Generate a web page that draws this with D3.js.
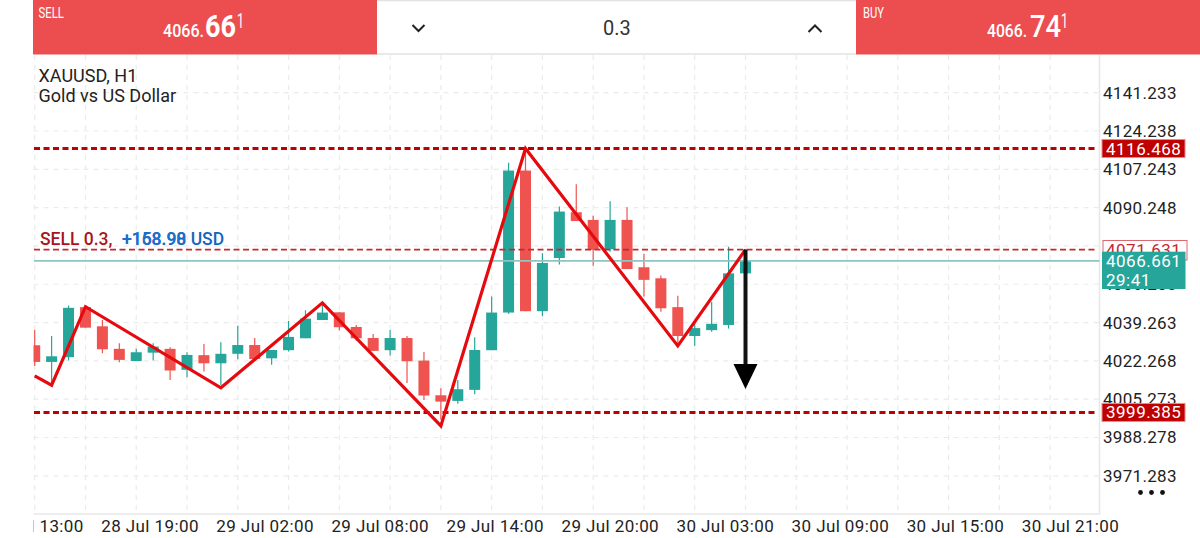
<!DOCTYPE html>
<html><head><meta charset="utf-8">
<script src="https://cdn.jsdelivr.net/npm/d3@7"></script>
<style>html,body{margin:0;padding:0;background:#fff;overflow:hidden}svg{display:block}text{font-family:Roboto,sans-serif}</style>
</head><body><svg id="c" width="1200" height="538"></svg>
<script>
const opens =[4029.2,4021.8,4023.9,4046.1,4037.6,4027.6,4022.2,4025.9,4027.6,4018.3,4024.8,4021.2,4025.4,4029.3,4023.4,4027.0,4032.3,4040.4,4043.8,4037.3,4032.4,4027.0,4032.4,4022.4,4007.0,4004.5,4009.4,4027.0,4043.7,4106.7,4044.3,4067.9,4088.2,4084.8,4071.8,4084.8,4063.8,4058.9,4046.1,4033.3,4035.9,4038.2,4061.1];
const closes=[4021.8,4024.3,4045.8,4037.0,4027.4,4022.7,4026.1,4028.6,4018.0,4024.9,4021.2,4025.4,4029.3,4023.1,4027.1,4032.9,4041.0,4043.7,4037.2,4032.3,4026.7,4032.4,4022.1,4006.9,4004.2,4009.7,4027.1,4043.7,4106.7,4044.3,4065.7,4088.5,4084.3,4071.5,4084.8,4063.0,4058.2,4045.6,4033.3,4036.8,4038.7,4061.1,4066.6];
const highs =[4036.0,4033.3,4046.8,4047.1,4040.4,4030.1,4027.7,4030.1,4028.3,4026.1,4029.8,4030.5,4037.9,4032.4,4027.1,4040.0,4044.7,4047.8,4043.8,4038.2,4034.2,4036.0,4033.3,4026.2,4010.1,4013.8,4032.8,4050.8,4110.2,4115.8,4070.0,4090.7,4100.6,4086.6,4093.1,4090.4,4069.8,4060.1,4051.2,4039.1,4048.5,4072.9,4066.6];
const lows  =[4020.0,4011.6,4022.4,4037.0,4025.7,4021.7,4022.2,4022.4,4013.8,4015.0,4017.5,4011.6,4023.0,4023.0,4020.5,4026.4,4032.3,4040.4,4035.7,4031.3,4026.7,4024.6,4012.5,4004.9,3996.1,4003.2,4007.5,4027.0,4043.1,4044.3,4042.2,4065.0,4084.3,4064.5,4070.7,4063.0,4050.8,4044.1,4029.3,4029.0,4035.2,4036.6,4061.1];
const zigIndex=[0,1,3,11,17,24,29,38,42];
const zigPrice=[4015.6,4011.5,4046.3,4010.3,4048.0,3993.4,4116.468,4028.9,4071.631];
const priceTicks=[4141.233,4124.238,4107.243,4090.248,4073.253,4056.258,4039.263,4022.268,4005.273,3988.278,3971.283];
const timeLabels=["28 Jul 13:00","28 Jul 19:00","29 Jul 02:00","29 Jul 08:00","29 Jul 14:00","29 Jul 20:00","30 Jul 03:00","30 Jul 09:00","30 Jul 15:00","30 Jul 21:00"];
const upperLevel=4116.468, lowerLevel=3999.385, sellLevel=4071.631, lastPrice=4066.661;
const gridSlots=d3.range(0,63,3);

const svg=d3.select("#c");
const L=33.5,R=1099.5,T=55,B=514;
const y=d3.scaleLinear().domain([4141.233,3971.283]).range([92.7,475.8]);
const x=d3.scaleLinear().domain([0,42]).range([34.7,745.5]);
const xl=d3.scalePoint().domain(timeLabels).range([34.5,1070]);
const UP="#26a69a",DN="#ef5350",LV="#bf0000";
const defs=svg.append("defs");
defs.append("clipPath").attr("id","plot").append("rect").attr("x",L).attr("y",T).attr("width",R-L).attr("height",B-T);
defs.append("clipPath").attr("id","xclip").append("rect").attr("x",L-0.5).attr("y",0).attr("width",1200).attr("height",30);

// grid
const g=svg.append("g").attr("stroke","#ebebeb").attr("stroke-width",1.2).attr("stroke-dasharray","5,5");
g.selectAll(".h").data(priceTicks).join("line").attr("x1",L).attr("x2",R).attr("y1",d=>y(d)).attr("y2",d=>y(d));
g.selectAll(".v").data(gridSlots).join("line").attr("x1",d=>x(d)).attr("x2",d=>x(d)).attr("y1",T).attr("y2",B);
svg.append("path").attr("d",`M${R},${T}V${B}H${L}`).attr("fill","none").attr("stroke","#e8e8e8").attr("stroke-width",1.6);

// candles
const cg=svg.append("g").attr("clip-path","url(#plot)");
const idx=d3.range(opens.length);
const col=i=>closes[i]>=opens[i]?UP:DN;
cg.selectAll(".w").data(idx).join("line").attr("x1",i=>x(i)).attr("x2",i=>x(i)).attr("y1",i=>y(highs[i])).attr("y2",i=>y(lows[i])).attr("stroke",col).attr("stroke-width",1.2);
cg.selectAll(".b").data(idx).join("rect").attr("x",i=>x(i)-5.5).attr("width",11).attr("y",i=>y(Math.max(opens[i],closes[i]))).attr("height",i=>Math.abs(y(opens[i])-y(closes[i]))).attr("fill",col);

// levels
const hl=(v,c,w,d)=>svg.append("line").attr("x1",L+0.5).attr("x2",R-2).attr("y1",y(v)).attr("y2",y(v)).attr("stroke",c).attr("stroke-width",w).attr("stroke-dasharray",d);
hl(upperLevel,LV,3,"6,3.5");hl(lowerLevel,LV,3,"6,3.5");hl(sellLevel,"#c62833",1.8,"6,3.5");
svg.append("line").attr("x1",L+0.5).attr("x2",R).attr("y1",y(lastPrice)).attr("y2",y(lastPrice)).attr("stroke","#8fc5c1").attr("stroke-width",1.8);

// zigzag
svg.append("path").attr("clip-path","url(#plot)").attr("d",d3.line().x(i=>x(zigIndex[i])).y(i=>y(zigPrice[i]))(d3.range(zigIndex.length))).attr("fill","none").attr("stroke","#e60a0e").attr("stroke-width",3.2).attr("stroke-linejoin","miter");

// arrow
const ax=x(42);
svg.append("line").attr("x1",ax).attr("x2",ax).attr("y1",y(sellLevel)).attr("y2",366).attr("stroke","#111").attr("stroke-width",4);
svg.append("path").attr("d",`M${ax-12},364L${ax+12},364L${ax},389Z`).attr("fill","#000");

// axes
const ya=svg.append("g").attr("transform","translate(1103,0)").call(d3.axisRight(y).tickValues(priceTicks).tickSize(0).tickPadding(0).tickFormat(d3.format(".3f")));
ya.select(".domain").remove();
ya.selectAll("text").attr("font-size",17).attr("letter-spacing",0.3).attr("fill","#222").style("font-family","Roboto");
const xa=svg.append("g").attr("transform",`translate(0,${B})`).attr("clip-path","url(#xclip)").call(d3.axisBottom(xl).tickSize(0).tickPadding(6));
xa.select(".domain").remove();
xa.selectAll("text").attr("font-size",17).attr("letter-spacing",0.4).attr("fill","#222").style("font-family","Roboto");

// price tags
const tag=(yy,h,txt,fill,stroke,tc,x0,w)=>{svg.append("rect").attr("x",x0).attr("y",yy).attr("width",w).attr("height",h).attr("fill",fill).attr("stroke",stroke).attr("stroke-width",1);
 svg.append("text").attr("x",1106).attr("y",yy+h/2+6).attr("font-size",17).attr("letter-spacing",0.5).attr("fill",tc).text(txt);};
tag(y(upperLevel)-9,18,d3.format(".3f")(upperLevel),LV,"#e88",  "#fff",1102,83);
tag(y(lowerLevel)-9,18,d3.format(".3f")(lowerLevel),LV,"#e88","#fff",1102,83);
tag(240.5,19.5,d3.format(".3f")(sellLevel),"#fff","#d9696f","#c62833",1103,84);
svg.append("rect").attr("x",1102).attr("y",251.7).attr("width",83.5).attr("height",37.3).attr("fill",UP);
svg.append("text").attr("x",1106).attr("y",267).attr("font-size",17).attr("letter-spacing",0.5).attr("fill","#fff").text(d3.format(".3f")(lastPrice));
svg.append("text").attr("x",1106).attr("y",286).attr("font-size",17).attr("letter-spacing",0.5).attr("fill","#fff").text("29:41");

// header
const HR="#ec4e50";
svg.append("rect").attr("x",33).attr("y",0).attr("width",344).attr("height",54.5).attr("fill",HR);
svg.append("rect").attr("x",856).attr("y",0).attr("width",344).attr("height",54.5).attr("fill",HR);
svg.append("line").attr("x1",377).attr("x2",856).attr("y1",54).attr("y2",54).attr("stroke","#e2e2e2").attr("stroke-width",1.5);
svg.append("line").attr("x1",377).attr("x2",856).attr("y1",0.5).attr("y2",0.5).attr("stroke","#e2e2e2").attr("stroke-width",1.5);
const t=(xx,yy,s,fs,c,w,len)=>{const e=svg.append("text").attr("x",xx).attr("y",yy).attr("font-size",fs).attr("fill",c).attr("font-weight",w||400).text(s);if(len)e.attr("textLength",len).attr("lengthAdjust","spacingAndGlyphs");return e;};
t(38.5,18,"SELL",14,"#fff",400,25.5);
t(863,18,"BUY",14,"#fff",400,21);
t(163,37,"4066.",19,"#fff",500,41);
t(205,37,"66",31,"#fff",700,31);
t(237,28,"1",20,"#fff",400,7);
t(987,37,"4066.",19,"#fff",500,40);
t(1030,37,"74",31,"#fff",500,31);
t(1061,28,"1",20,"#fff",400,7);
t(617,35,"0.3",20,"#333").attr("text-anchor","middle");
svg.append("path").attr("d","M412.5,25L418.5,31L424.5,25").attr("fill","none").attr("stroke","#222").attr("stroke-width",2);
svg.append("path").attr("d","M808.5,32L815,25.5L821.5,32").attr("fill","none").attr("stroke","#222").attr("stroke-width",2);

// titles
t(38.5,82,"XAUUSD, H1",18,"#222");
t(38.5,102,"Gold vs US Dollar",18,"#222");
t(40,245,"SELL 0.3,",17.5,"#a8141e",500);
t(122,245,"+158.98 USD",17.5,"#1565c0",500);
t(122,245,"+168.90",17.5,"#1e6fc8",500);

// dots
svg.selectAll(".dot").data([1140.5,1151.5,1162.5]).join("circle").attr("cx",d=>d).attr("cy",492.5).attr("r",2.4).attr("fill","#111");
</script></body></html>
